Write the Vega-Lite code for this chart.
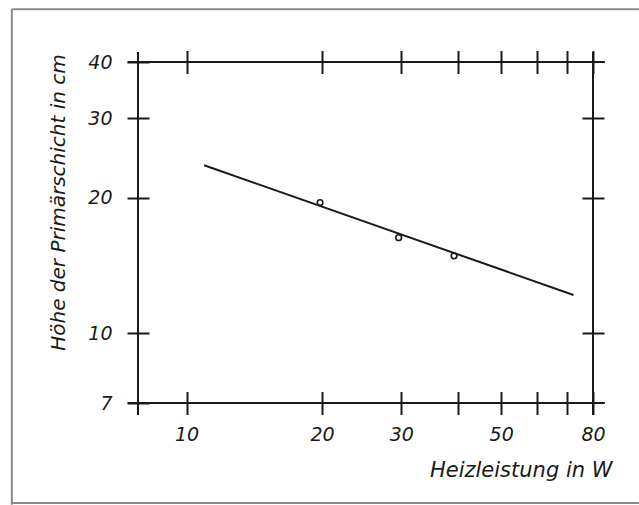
{
  "$schema": "https://vega.github.io/schema/vega-lite/v6.json",
  "autosize": {"type": "none"},
  "width": 455,
  "height": 341,
  "padding": {"left": 138, "top": 62, "right": 46, "bottom": 102},
  "background": "white",
  "config": {
    "view": {"stroke": null},
    "font": "DejaVu Sans",
    "axis": {
      "grid": false,
      "domain": false,
      "tickColor": "#1a1a1a",
      "tickWidth": 2,
      "labelFont": "DejaVu Sans",
      "labelFontStyle": "italic",
      "labelFontSize": 19,
      "labelColor": "#1a1a1a",
      "titleFont": "DejaVu Sans",
      "titleFontStyle": "italic",
      "titleFontWeight": "normal",
      "titleColor": "#1a1a1a"
    }
  },
  "datasets": {
    "frame": [
      {"x": 7.4, "x2": 85, "y": 40, "y2": 40},
      {"x": 7.4, "x2": 85, "y": 7, "y2": 7},
      {"x": 7.8, "x2": 7.8, "y": 6.58, "y2": 42.1},
      {"x": 80, "x2": 80, "y": 6.58, "y2": 42.1}
    ],
    "border": [
      {"x": 4.09, "x2": 101.2, "y": 52.4, "y2": 52.4},
      {"x": 4.09, "x2": 4.09, "y": 52.4, "y2": 4.16},
      {"x": 4.09, "x2": 101.2, "y": 4.2, "y2": 4.2}
    ],
    "fit": [
      {"leistung": 10.94, "hoehe": 23.6},
      {"leistung": 72.4, "hoehe": 12.16}
    ],
    "messung": [
      {"leistung": 19.8, "hoehe": 19.5},
      {"leistung": 29.6, "hoehe": 16.3},
      {"leistung": 39.3, "hoehe": 14.85}
    ]
  },
  "resolve": {"axis": {"x": "independent", "y": "independent"}},
  "layer": [
    {
      "data": {"name": "border"},
      "mark": {"type": "rule", "color": "#8a8a8a", "strokeWidth": 2},
      "encoding": {
        "x": {"field": "x", "type": "quantitative", "scale": {"type": "log", "domain": [7.8, 80], "nice": false, "zero": false}, "axis": null},
        "x2": {"field": "x2"},
        "y": {"field": "y", "type": "quantitative", "scale": {"type": "log", "domain": [7, 40], "nice": false, "zero": false}, "axis": null},
        "y2": {"field": "y2"}
      }
    },
    {
      "data": {"name": "frame"},
      "mark": {"type": "rule", "color": "#1a1a1a", "strokeWidth": 2},
      "encoding": {
        "x": {
          "field": "x", "type": "quantitative",
          "axis": {
            "orient": "bottom",
            "values": [10, 20, 30, 40, 50, 60, 70, 80],
            "labelExpr": "indexof([10, 20, 30, 50, 80], datum.value) >= 0 ? datum.label : ''",
            "tickSize": 23,
            "offset": -11.5,
            "labelPadding": 11,
            "labelFlush": false,
            "labelOverlap": false,
            "title": "Heizleistung in W",
            "titleFontSize": 21,
            "titleAlign": "right",
            "titleAnchor": null,
            "titleX": 474,
            "titleY": 85,
            "titleBaseline": "alphabetic"
          }
        },
        "x2": {"field": "x2"},
        "y": {
          "field": "y", "type": "quantitative",
          "axis": {
            "orient": "left",
            "values": [7, 10, 20, 30, 40],
            "tickSize": 22,
            "offset": -11,
            "labelPadding": 15,
            "labelFlush": false,
            "labelOverlap": false,
            "title": "Höhe der Primärschicht in cm",
            "titleFontSize": 20,
            "titleAlign": "center",
            "titleAnchor": null,
            "titleAngle": 270,
            "titleX": -91,
            "titleY": 140,
            "titleBaseline": "middle"
          }
        },
        "y2": {"field": "y2"}
      }
    },
    {
      "data": {"name": "fit"},
      "mark": {"type": "line", "color": "#1a1a1a", "strokeWidth": 2},
      "encoding": {
        "x": {
          "field": "leistung", "type": "quantitative",
          "axis": {"orient": "top", "values": [10, 20, 30, 40, 50, 60, 70, 80], "labels": false, "tickSize": 23, "offset": -11.5, "title": null}
        },
        "y": {
          "field": "hoehe", "type": "quantitative",
          "axis": {"orient": "right", "values": [10, 20, 30], "labels": false, "tickSize": 22, "offset": -11, "title": null}
        }
      }
    },
    {
      "data": {"name": "messung"},
      "mark": {"type": "point", "shape": "circle", "filled": false, "color": "#1a1a1a", "size": 32, "strokeWidth": 1.6, "opacity": 1},
      "encoding": {
        "x": {"field": "leistung", "type": "quantitative", "axis": null},
        "y": {"field": "hoehe", "type": "quantitative", "axis": null}
      }
    }
  ]
}
